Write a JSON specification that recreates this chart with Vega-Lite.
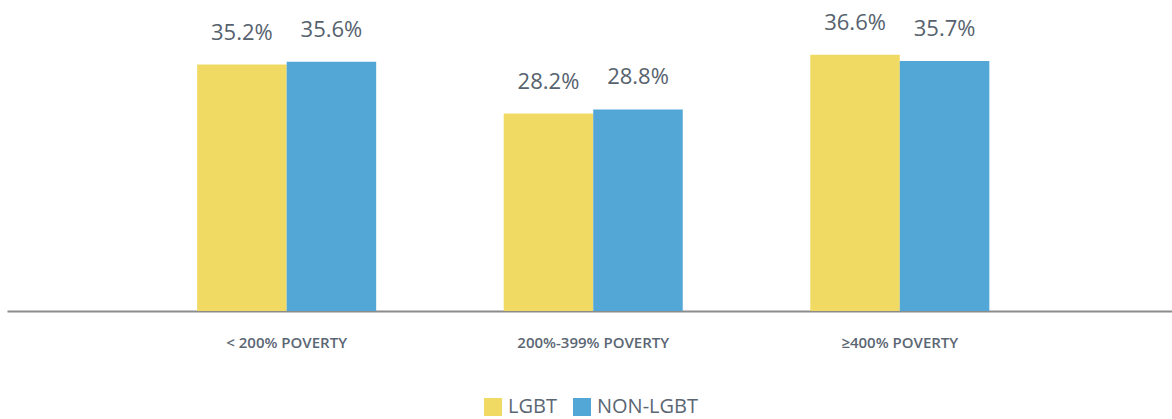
{
  "$schema": "https://vega.github.io/schema/vega-lite/v6.json",
  "width": 1165,
  "height": 280,
  "autosize": {"type": "none"},
  "padding": {"left": 7, "top": 31, "right": 0, "bottom": 108},
  "config": {"view": {"stroke": null}, "font": "Open Sans"},
  "data": {
    "values": [
      {"group": "< 200% POVERTY", "series": "LGBT", "value": 0.352},
      {"group": "< 200% POVERTY", "series": "NON-LGBT", "value": 0.356},
      {"group": "200%-399% POVERTY", "series": "LGBT", "value": 0.282},
      {"group": "200%-399% POVERTY", "series": "NON-LGBT", "value": 0.288},
      {"group": "≥400% POVERTY", "series": "LGBT", "value": 0.366},
      {"group": "≥400% POVERTY", "series": "NON-LGBT", "value": 0.357}
    ]
  },
  "encoding": {
    "x": {
      "field": "group",
      "type": "nominal",
      "sort": ["< 200% POVERTY", "200%-399% POVERTY", "≥400% POVERTY"],
      "scale": {"paddingInner": 0.416, "paddingOuter": 0.608, "align": 0.51},
      "axis": {
        "title": null,
        "labelAngle": 0,
        "ticks": false,
        "domainColor": "#8c8c8c",
        "domainWidth": 2,
        "labelFontSize": 15,
        "labelFontWeight": 600,
        "labelColor": "#5b6673",
        "labelPadding": 24
      }
    },
    "xOffset": {"field": "series", "type": "nominal", "sort": ["LGBT", "NON-LGBT"]},
    "y": {"field": "value", "type": "quantitative", "scale": {"domain": [0, 0.4]}, "axis": null},
    "color": {
      "field": "series",
      "type": "nominal",
      "scale": {"domain": ["LGBT", "NON-LGBT"], "range": ["#F0DA64", "#52A7D6"]},
      "legend": {
        "title": null,
        "orient": "none",
        "legendX": 476,
        "legendY": 366,
        "direction": "horizontal",
        "symbolType": "square",
        "symbolSize": 324,
        "symbolStrokeWidth": 0,
        "labelFontSize": 20,
        "labelColor": "#5b6673",
        "labelOffset": 5,
        "columnPadding": 15
      }
    }
  },
  "layer": [
    {"mark": {"type": "bar"}},
    {
      "mark": {"type": "text", "baseline": "bottom", "dy": -20, "fontSize": 22, "fontWeight": 500, "color": "#56626e"},
      "encoding": {"text": {"field": "value", "type": "quantitative", "format": ".1%"}, "color": {"value": "#56626e"}}
    }
  ]
}
